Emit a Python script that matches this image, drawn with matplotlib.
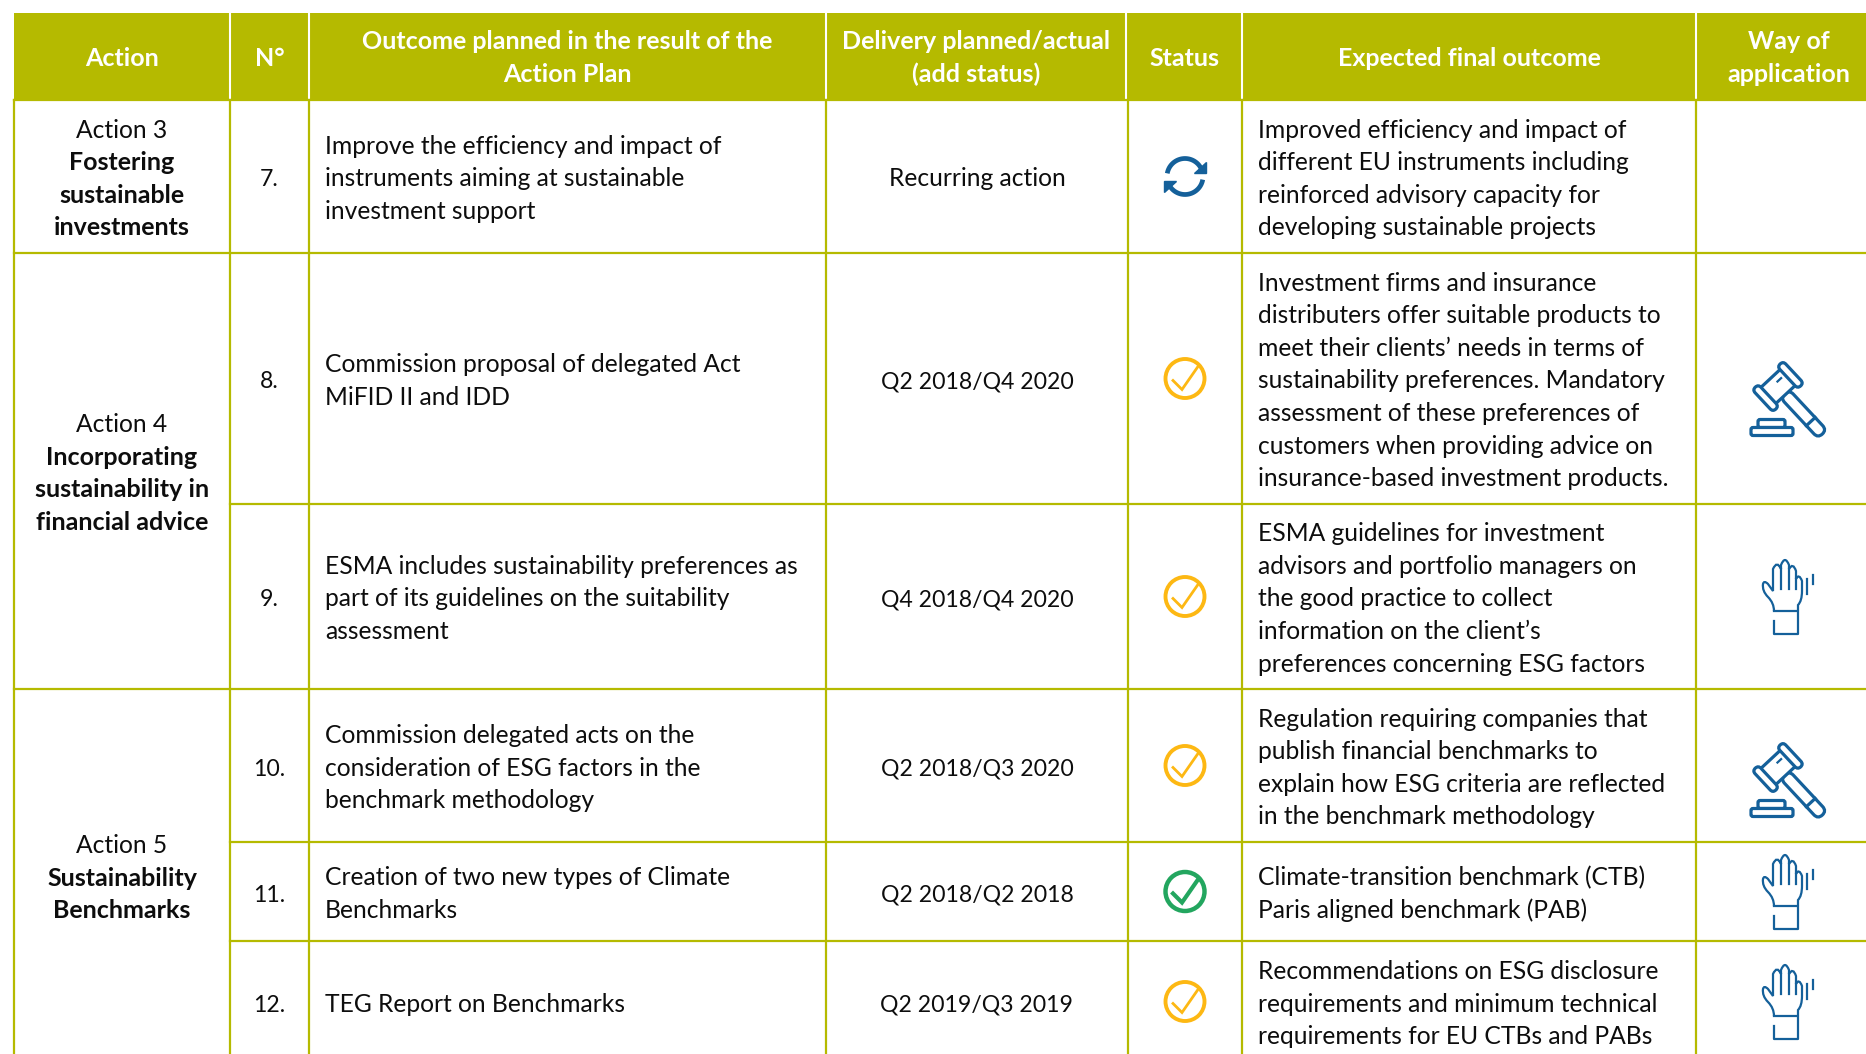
import numpy as np
import matplotlib
matplotlib.use("Agg")
import matplotlib.pyplot as plt
from matplotlib.patches import Circle, FancyBboxPatch, Polygon, Rectangle
from matplotlib.path import Path
from matplotlib.patches import PathPatch
from matplotlib.transforms import Affine2D

# table content
headers = ["Action", "N°", "Outcome planned in the result of the\nAction Plan",
           "Delivery planned/actual\n(add status)", "Status",
           "Expected final outcome", "Way of\napplication"]
actions = [("Action 3", ["Fostering", "sustainable", "investments"]),
           ("Action 4", ["Incorporating", "sustainability in", "financial advice"]),
           ("Action 5", ["Sustainability", "Benchmarks"])]
numbers = ["7.", "8.", "9.", "10.", "11.", "12."]
outcomes = [["Improve the efficiency and impact of", "instruments aiming at sustainable", "investment support"],
            ["Commission proposal of delegated Act", "MiFID II and IDD"],
            ["ESMA includes sustainability preferences as", "part of its guidelines on the suitability", "assessment"],
            ["Commission delegated acts on the", "consideration of ESG factors in the", "benchmark methodology"],
            ["Creation of two new types of Climate", "Benchmarks"],
            ["TEG Report on Benchmarks"]]
deliveries = ["Recurring action", "Q2 2018/Q4 2020", "Q4 2018/Q4 2020",
              "Q2 2018/Q3 2020", "Q2 2018/Q2 2018", "Q2 2019/Q3 2019"]
statuses = ["recurring", "planned", "planned", "planned", "done", "planned"]
expected = [["Improved efficiency and impact of", "different EU instruments including",
             "reinforced advisory capacity for", "developing sustainable projects"],
            ["Investment firms and insurance", "distributers offer suitable products to",
             "meet their clients’ needs in terms of", "sustainability preferences. Mandatory",
             "assessment of these preferences of", "customers when providing advice on",
             "insurance-based investment products."],
            ["ESMA guidelines for investment", "advisors and portfolio managers on",
             "the good practice to collect", "information on the client’s",
             "preferences concerning ESG factors"],
            ["Regulation requiring companies that", "publish financial benchmarks to",
             "explain how ESG criteria are reflected", "in the benchmark methodology"],
            ["Climate-transition benchmark (CTB)", "Paris aligned benchmark (PAB)"],
            ["Recommendations on ESG disclosure", "requirements and minimum technical",
             "requirements for EU CTBs and PABs"]]
ways = [None, "gavel", "hand", "gavel", "hand", "hand"]

# layout in pixels
col_x = [14, 230, 309, 826, 1128, 1242, 1696, 1866]
hdr_x = [14, 230, 309, 826, 1126, 1242, 1696, 1881]
row_y = [100, 253, 504, 689, 842, 941, 1062]
action_rows = [(0, 1), (1, 3), (3, 6)]
top = 13
line_h = 32.6
baseline = 9
fs = 17.7
fs_bold = 18.0
fs_digits = 16.6

olive = "#B5BA00"
ink = "#0D0D0D"
blue = "#14609A"
yellow = "#FDB813"
green = "#23A65F"

plt.rcParams["font.family"] = ["Lato", "DejaVu Sans"]
fig = plt.figure(figsize=(18.66, 10.54), dpi=100)
ax = fig.add_axes([0, 0, 1, 1])
ax.set_xlim(0, 1866)
ax.set_ylim(1054, 0)
ax.axis("off")


def put(lines, x, yc, ha="left", size=None, **kw):
    kw.setdefault("color", ink)
    for i, s in enumerate(lines):
        y = yc + (i - (len(lines) - 1) / 2) * line_h + baseline
        ax.text(x, y, s, ha=ha, va="baseline", fontsize=size or fs, **kw)


def status_icon(kind, x, y):
    if kind == "recurring":
        t = np.radians(np.linspace(190, 335, 40))
        r = 18
        ax.plot(x + r * np.cos(t), y + r * np.sin(t), color=blue, lw=3.4, solid_capstyle="butt")
        ax.plot(x - r * np.cos(t), y - r * np.sin(t), color=blue, lw=3.4, solid_capstyle="butt")
        ax.add_patch(Polygon([(x + 9, y - 4), (x + 21, y - 4), (x + 21, y - 15)], color=blue, lw=1))
        ax.add_patch(Polygon([(x - 9, y + 4), (x - 21, y + 4), (x - 21, y + 15)], color=blue, lw=1))
        return
    col = green if kind == "done" else yellow
    ax.add_patch(Circle((x, y), 19.5, fc="none", ec=col, lw=3.2 if kind == "done" else 2.8))
    ax.plot([x - 12, x - 3, x + 13], [y + 2, y + 11, y - 12], color=col,
            lw=3.0 if kind == "done" else 2.0, solid_joinstyle="miter")


def gavel_icon(x, y):
    tr = Affine2D().rotate_deg(47).translate(x - 10, y - 13) + ax.transData
    kw = dict(fc="white", ec=blue, lw=2.3, transform=tr)
    ax.add_patch(FancyBboxPatch((10, -6), 55, 12, boxstyle="round,pad=0,rounding_size=6", **kw))
    ax.add_patch(Rectangle((-11, -14), 22, 28, **kw))
    ax.add_patch(FancyBboxPatch((-15, -21), 30, 8, boxstyle="round,pad=0,rounding_size=4", **kw))
    ax.add_patch(FancyBboxPatch((-15, 13), 30, 8, boxstyle="round,pad=0,rounding_size=4", **kw))
    ax.plot([48, 48], [-6, 6], color=blue, lw=2.3, transform=tr)
    ax.plot([-4, -4], [-8, -3], color=blue, lw=1.6, transform=tr)
    ax.add_patch(FancyBboxPatch((x - 30, y + 20), 27, 8, boxstyle="round,pad=0,rounding_size=2",
                                fc="white", ec=blue, lw=2.3))
    ax.add_patch(FancyBboxPatch((x - 37, y + 28), 42, 8, boxstyle="round,pad=0,rounding_size=2",
                                fc="white", ec=blue, lw=2.3))


def hand_icon(x, y):
    # x, y is the middle of the icon
    ox, oy = x - 2, y + 13.5
    steps = [("M", (-12, 0)), ("C", (-12, -8)), ("C", (-18, -14)), ("C", (-24, -20)), ("C", (-23, -27)),
             ("C", (-22, -31)), ("C", (-18, -27)), ("L", (-13, -20)), ("L", (-13, -42)),
             ("C", (-9, -51)), ("C", (-5, -42)), ("L", (-5, -46)), ("C", (-1, -56)), ("C", (3, -46)),
             ("L", (3, -42)), ("C", (7, -49)), ("C", (10, -40)), ("L", (10, -32)), ("C", (13, -38)),
             ("C", (16, -30)), ("L", (16, -20)), ("C", (16, -10)), ("C", (12, -6)), ("L", (12, 0))]
    code = {"M": Path.MOVETO, "L": Path.LINETO, "C": Path.CURVE3}
    pts = [(ox + p[0], oy + p[1]) for _, p in steps]
    ax.add_patch(PathPatch(Path(pts, [code[k] for k, _ in steps]), fc="none", ec=blue, lw=1.6))
    for fx, y0, y1 in [(-5, -42, -22), (3, -42, -22), (10, -32, -22), (21, -32, -17), (27, -36, -27)]:
        ax.plot([ox + fx, ox + fx], [oy + y0, oy + y1], color=blue, lw=1.6)
    ax.plot([ox - 12, ox + 12, ox + 12, ox - 12, ox - 12], [oy, oy, oy + 23, oy + 23, oy + 10],
            color=blue, lw=1.6)


# header band
ax.add_patch(Rectangle((col_x[0], top), col_x[-1] - col_x[0], row_y[0] - top, fc=olive, ec="none"))
for x in hdr_x[1:-1]:
    ax.plot([x, x], [top + 1, row_y[0] - 1], color="white", lw=1.5)
for i, h in enumerate(headers):
    xc = (hdr_x[i] + hdr_x[i + 1]) / 2
    put(h.split("\n"), xc, (top + row_y[0]) / 2, ha="center", size=fs_bold, color="white", fontweight="bold")

# grid, the action cells are merged so inner rules start at the second column
inner = [k for a, b in action_rows for k in range(a + 1, b)]
for k, y in enumerate(row_y[:-1]):
    x0 = col_x[1] if k in inner else col_x[0]
    ax.plot([x0, 1866], [y, y], color=olive, lw=1.6)
for x in col_x[:-1]:
    ax.plot([x, x], [row_y[0], 1054], color=olive, lw=1.6)

# action column
for (name, bold), (a, b) in zip(actions, action_rows):
    yc = (row_y[a] + row_y[b]) / 2 + 1
    xc = (col_x[0] + col_x[1]) / 2
    n = len(bold) + 1
    for i, s in enumerate([name] + bold):
        y = yc + (i - (n - 1) / 2) * line_h + baseline
        ax.text(xc, y, s, ha="center", va="baseline", fontsize=fs if i == 0 else fs_bold, color=ink,
                fontweight="normal" if i == 0 else "bold")

# body rows
gavel_shift = {1: 20, 3: 14}
for i in range(len(numbers)):
    yc = (row_y[i] + row_y[i + 1]) / 2 + 1
    put([numbers[i]], 269.5, yc, ha="center", size=fs_digits)
    put(outcomes[i], 325, yc)
    put([deliveries[i]], 977, yc, ha="center", size=fs_digits if deliveries[i][0] == "Q" else fs)
    status_icon(statuses[i], 1185, yc - 1)
    put(expected[i], 1258, yc)
    if ways[i] == "gavel":
        gavel_icon(1788, yc + gavel_shift[i])
    elif ways[i] == "hand":
        hand_icon(1788, yc)

fig.savefig("out.png", dpi=100)
